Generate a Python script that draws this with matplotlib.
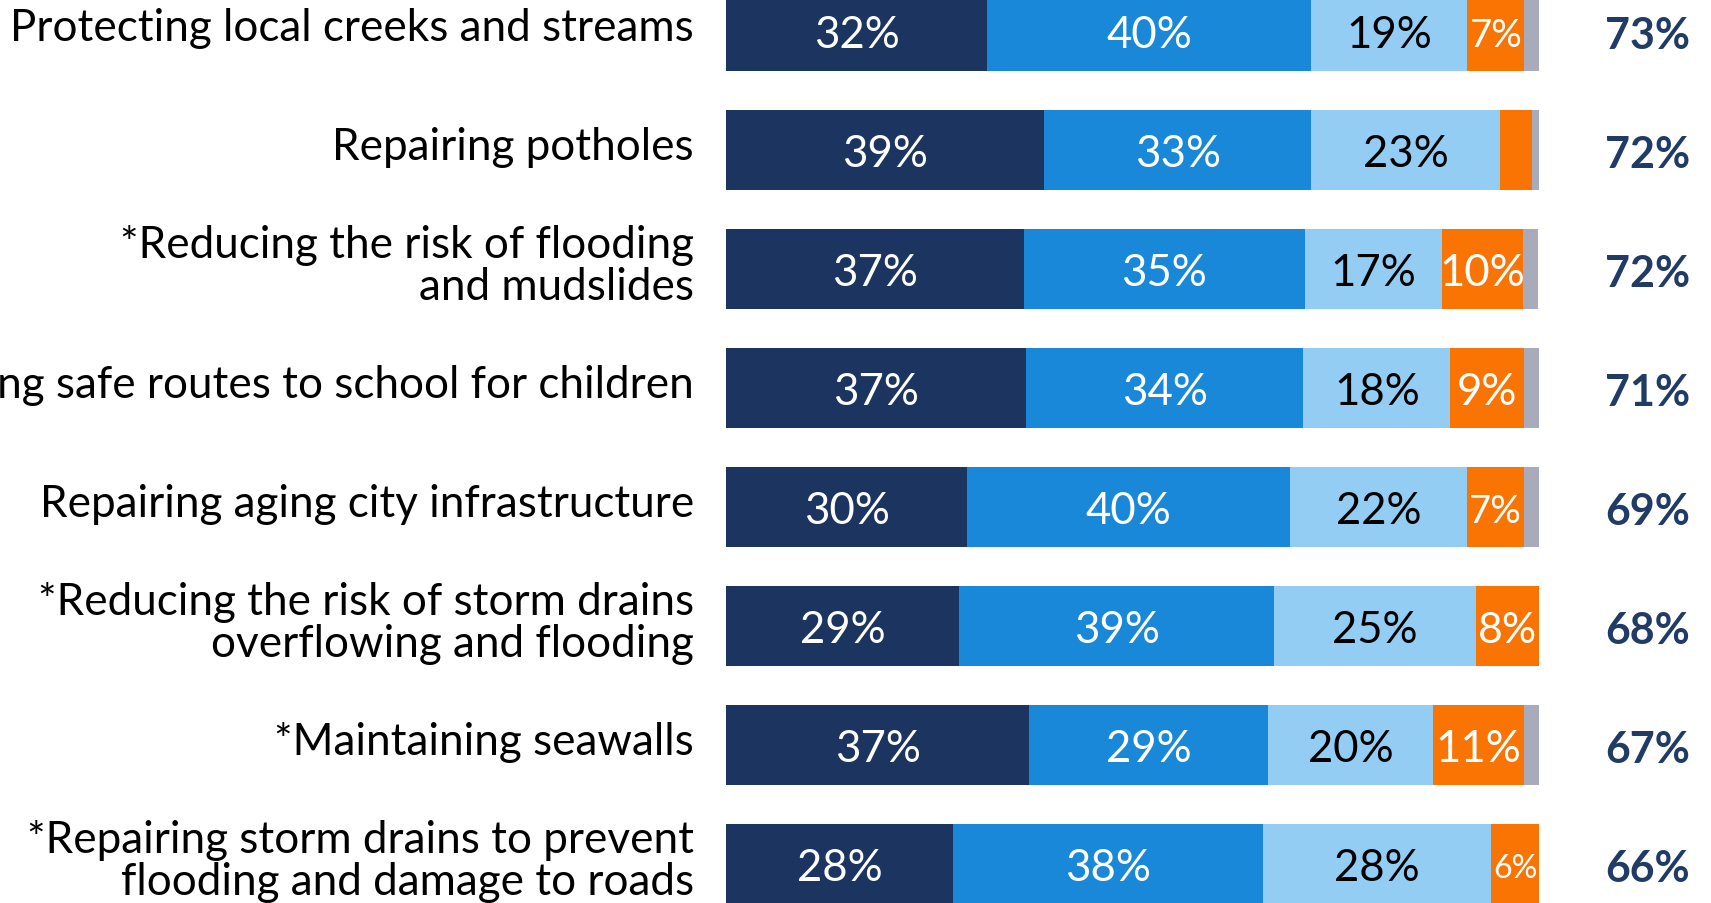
import matplotlib
matplotlib.use("Agg")
import matplotlib.pyplot as plt
import numpy as np

categories = [
    "Protecting local creeks and streams",
    "Repairing potholes",
    "*Reducing the risk of flooding\nand mudslides",
    "Providing safe routes to school for children",
    "Repairing aging city infrastructure",
    "*Reducing the risk of storm drains\noverflowing and flooding",
    "*Maintaining seawalls",
    "*Repairing storm drains to prevent\nflooding and damage to roads",
]
very_important = [32.1, 39.1, 36.6, 36.9, 29.7, 28.7, 37.3, 27.9]
somewhat_important = [39.9, 32.9, 34.6, 34.1, 39.7, 38.7, 29.4, 38.1]
somewhat_less = [19.2, 23.2, 16.9, 18.1, 21.7, 24.8, 20.3, 28.1]
not_important = [7.0, 3.9, 9.9, 9.0, 7.0, 7.8, 11.1, 5.9]
dont_know = [1.9, 0.9, 1.9, 1.9, 1.9, 0.0, 1.9, 0.0]
total_important = ["73%", "72%", "72%", "71%", "69%", "68%", "67%", "66%"]

series = [very_important, somewhat_important, somewhat_less, not_important, dont_know]
colors = ["#1C3560", "#1A88D8", "#93CDF3", "#F97402", "#A9ABBA"]
text_colors = ["white", "white", "black", "white", None]

plt.rcParams["font.family"] = ["Lato", "DejaVu Sans"]

W, H = 1711, 904
fig = plt.figure(figsize=(W / 100, H / 100), dpi=100)
bar_left_px, bar_right_px = 726, 1539
ax = fig.add_axes([bar_left_px / W, 0, (bar_right_px - bar_left_px) / W, 1])
ax.set_xlim(0, 100)
top_px, pitch = 32, 119
ax.set_ylim((H - top_px) / pitch, (0 - top_px) / pitch)
ax.axis("off")

y = np.arange(len(categories))
base_fs = 31.5
left = np.zeros(len(categories))
for vals, col, tcol in zip(series, colors, text_colors):
    vals = np.array(vals)
    ax.barh(y, vals, left=left, height=0.67, color=col, edgecolor="none")
    if tcol is not None:
        for i, v in enumerate(vals):
            if v < 5:
                continue
            fs = base_fs * min(1.0, v / 8.0)
            ax.text(left[i] + v / 2, y[i] + 0.03, f"{round(v):d}%", ha="center", va="center",
                    color=tcol, fontsize=fs)
    left = left + vals

for i, cat in enumerate(categories):
    ax.text(-3.94, y[i] - 0.03, cat, ha="right", va="center", fontsize=31.7,
            color="black", linespacing=1.05, clip_on=False)
    ax.text(113.4, y[i] + 0.03, total_important[i], ha="center", va="center", fontsize=31,
            fontweight="bold", color="#1F3B66", clip_on=False)

fig.savefig("out.png", dpi=100, facecolor="white")
